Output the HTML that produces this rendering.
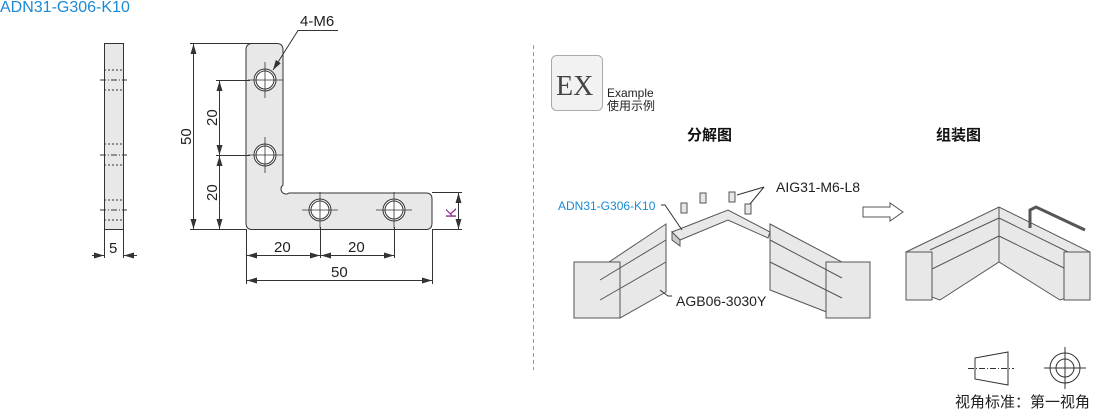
<!DOCTYPE html>
<html><head><meta charset="utf-8"><style>
html,body{margin:0;padding:0;background:#fff;}
svg{display:block;font-family:"Liberation Sans","Noto Sans CJK SC",sans-serif;}
</style></head><body>
<svg width="1110" height="413" viewBox="0 0 1110 413" xmlns="http://www.w3.org/2000/svg">
<defs>
<marker id="a" viewBox="0 0 10 6" refX="10" refY="3" markerWidth="10" markerHeight="6" orient="auto-start-reverse"><path d="M0,0 L10,3 L0,6 z" fill="#333"/></marker>
</defs>
<text x="0" y="12" font-size="16" fill="#1a8ad4">ADN31-G306-K10</text>
<!-- side view -->
<rect x="104.5" y="43.5" width="19" height="186" fill="#e8e8e8" stroke="#333"/>
<g stroke="#333" stroke-width="1" stroke-dasharray="2,2">
<line x1="104" y1="70" x2="124" y2="70"/><line x1="104" y1="90" x2="124" y2="90"/>
<line x1="104" y1="144" x2="124" y2="144"/><line x1="104" y1="165" x2="124" y2="165"/>
<line x1="104" y1="200" x2="124" y2="200"/><line x1="104" y1="220" x2="124" y2="220"/>
</g>
<g stroke="#333" stroke-dasharray="6,2,1,2"><line x1="100" y1="80" x2="127" y2="80"/><line x1="100" y1="155" x2="127" y2="155"/><line x1="100" y1="210" x2="127" y2="210"/></g>
<g stroke="#333"><line x1="104.5" y1="229" x2="104.5" y2="258"/><line x1="123.5" y1="229" x2="123.5" y2="258"/>
<line x1="92" y1="255.5" x2="104" y2="255.5" marker-end="url(#a)"/><line x1="137" y1="255.5" x2="124" y2="255.5" marker-end="url(#a)"/></g>
<text x="109" y="253" font-size="15" fill="#222">5</text>
<!-- L plate -->
<path d="M252,43.5 H277 Q283,43.5 283,50 V185 A5,5 0 0 0 289,193 H426 Q432,193 432,199 V223 Q432,229.5 426,229.5 H252 Q246,229.5 246,223 V50 Q246,43.5 252,43.5 Z" fill="#e8e8e8" stroke="#333"/>
<g fill="#fff" stroke="#333">
<circle cx="265" cy="80" r="11"/><circle cx="265" cy="80" r="9"/>
<circle cx="265" cy="155" r="11"/><circle cx="265" cy="155" r="9"/>
<circle cx="320" cy="210" r="11"/><circle cx="320" cy="210" r="9"/>
<circle cx="394" cy="210" r="11"/><circle cx="394" cy="210" r="9"/>
</g>
<g stroke="#333" stroke-width="0.8">
<line x1="265" y1="62" x2="265" y2="98"/><line x1="248" y1="80" x2="283" y2="80"/>
<line x1="265" y1="137" x2="265" y2="173"/><line x1="248" y1="155" x2="283" y2="155"/>
<line x1="320" y1="192" x2="320" y2="228"/><line x1="302" y1="210" x2="338" y2="210"/>
<line x1="394" y1="192" x2="394" y2="228"/><line x1="376" y1="210" x2="412" y2="210"/>
</g>
<!-- dims -->
<g stroke="#333" fill="none">
<line x1="190" y1="43.5" x2="277" y2="43.5"/><line x1="190" y1="229.5" x2="246" y2="229.5"/>
<line x1="193.5" y1="44" x2="193.5" y2="229" marker-start="url(#a)" marker-end="url(#a)"/>
<line x1="216" y1="80.5" x2="250" y2="80.5"/><line x1="216" y1="155.5" x2="250" y2="155.5"/>
<line x1="219.5" y1="81" x2="219.5" y2="155" marker-start="url(#a)" marker-end="url(#a)"/>
<line x1="219.5" y1="156" x2="219.5" y2="229" marker-start="url(#a)" marker-end="url(#a)"/>
<line x1="432" y1="192.5" x2="462" y2="192.5"/><line x1="432" y1="229.5" x2="462" y2="229.5"/>
<line x1="458.5" y1="193" x2="458.5" y2="229" marker-start="url(#a)" marker-end="url(#a)"/>
<line x1="246.5" y1="229" x2="246.5" y2="284"/><line x1="320.5" y1="227" x2="320.5" y2="258"/><line x1="394.5" y1="227" x2="394.5" y2="258"/><line x1="432.5" y1="229" x2="432.5" y2="284"/>
<line x1="247" y1="255.5" x2="320" y2="255.5" marker-start="url(#a)" marker-end="url(#a)"/>
<line x1="321" y1="255.5" x2="394" y2="255.5" marker-start="url(#a)" marker-end="url(#a)"/>
<line x1="247" y1="280.5" x2="432" y2="280.5" marker-start="url(#a)" marker-end="url(#a)"/>
<polyline points="338,30.5 298,30.5 273,70" marker-end="url(#a)"/>
</g>
<g font-size="15" fill="#222">
<text transform="translate(191,145) rotate(-90)">50</text>
<text transform="translate(217,126) rotate(-90)">20</text>
<text transform="translate(217,201) rotate(-90)">20</text>
<text transform="translate(456,218) rotate(-90)" fill="#8b2a8b">K</text>
<text x="274" y="252">20</text><text x="348" y="252">20</text><text x="331" y="277">50</text>
<text x="300" y="26">4-M6</text>
</g>
<line x1="533.5" y1="45" x2="533.5" y2="370" stroke="#999" stroke-dasharray="4,3"/>
<!-- EX -->
<rect x="551.5" y="55.5" width="51" height="55" rx="5" fill="#f2f2f2" stroke="#aaa"/>
<text x="556" y="95" font-family="Liberation Serif,serif" font-size="28" fill="#444">EX</text>
<text x="607" y="97" font-size="12" fill="#222">Example</text>
<text x="607" y="110" font-size="12" fill="#222">使用示例</text>
<text x="687" y="140" font-size="15" font-weight="bold" fill="#111">分解图</text>
<text x="936" y="140" font-size="15" font-weight="bold" fill="#111">组装图</text>
<!-- exploded -->
<g stroke="#555" fill="#e8e8e8" stroke-width="1">
<polygon points="600,268 666,224 666,292 620,318 600,305"/>
<rect x="574" y="262" width="46" height="56"/>
<line x1="600" y1="280" x2="666" y2="240"/><line x1="600" y1="300" x2="666" y2="262"/>
<polygon points="770,224 842,262 842,318 770,290"/>
<rect x="826" y="262" width="44" height="56"/>
<line x1="770" y1="240" x2="842" y2="278"/><line x1="770" y1="262" x2="842" y2="298"/>
<polygon points="672,232 728,210 770,232 768,238 728,220 680,240"/>
<polygon points="672,232 680,240 680,246 672,240" fill="#ccc"/>
<rect x="681" y="203" width="6" height="10"/><rect x="700" y="193" width="6" height="10"/><rect x="729" y="192" width="6" height="10"/><rect x="745" y="204" width="6" height="10"/>
</g>
<g stroke="#333" fill="none"><polyline points="661,205 665,205 682,230"/><polyline points="764,187 737,195"/><polyline points="764,187 750,204"/><polyline points="672,296 668,296 660,290"/></g>
<text x="558" y="210" font-size="12" fill="#1a8ad4">ADN31-G306-K10</text>
<text x="776" y="192" font-size="14" fill="#222">AIG31-M6-L8</text>
<text x="676" y="306" font-size="14" fill="#222">AGB06-3030Y</text>
<polygon points="863,207 890,207 890,203 903,212 890,221 890,217 863,217" fill="#fff" stroke="#555"/>
<!-- assembled -->
<g stroke="#555" fill="#e8e8e8">
<polygon points="906,252 999,207 1090,252 1090,290 1060,300 999,262 940,300 906,288"/>
<line x1="930" y1="250" x2="999" y2="218"/><line x1="999" y1="218" x2="1068" y2="252"/>
<line x1="930" y1="270" x2="999" y2="236"/><line x1="999" y1="236" x2="1068" y2="270"/>
<line x1="999" y1="207" x2="999" y2="262"/>
<rect x="906" y="252" width="26" height="48"/><rect x="1064" y="252" width="26" height="48"/>
<polyline points="1030,228 1030,210 1036,207 1085,230" fill="none" stroke-width="3"/>
</g>
<!-- projection symbol -->
<g stroke="#333" fill="none">
<polygon points="975,358 1008,352 1008,385 975,379"/>
<line x1="968" y1="368.5" x2="1014" y2="368.5" stroke-dasharray="6,2,1,2"/>
<circle cx="1065" cy="368" r="15"/><circle cx="1065" cy="368" r="9"/>
<line x1="1065" y1="347" x2="1065" y2="389"/><line x1="1044" y1="368" x2="1086" y2="368"/>
</g>
<text x="955" y="407" font-size="15" fill="#222">视角标准：第一视角</text>
</svg>
</body></html>
